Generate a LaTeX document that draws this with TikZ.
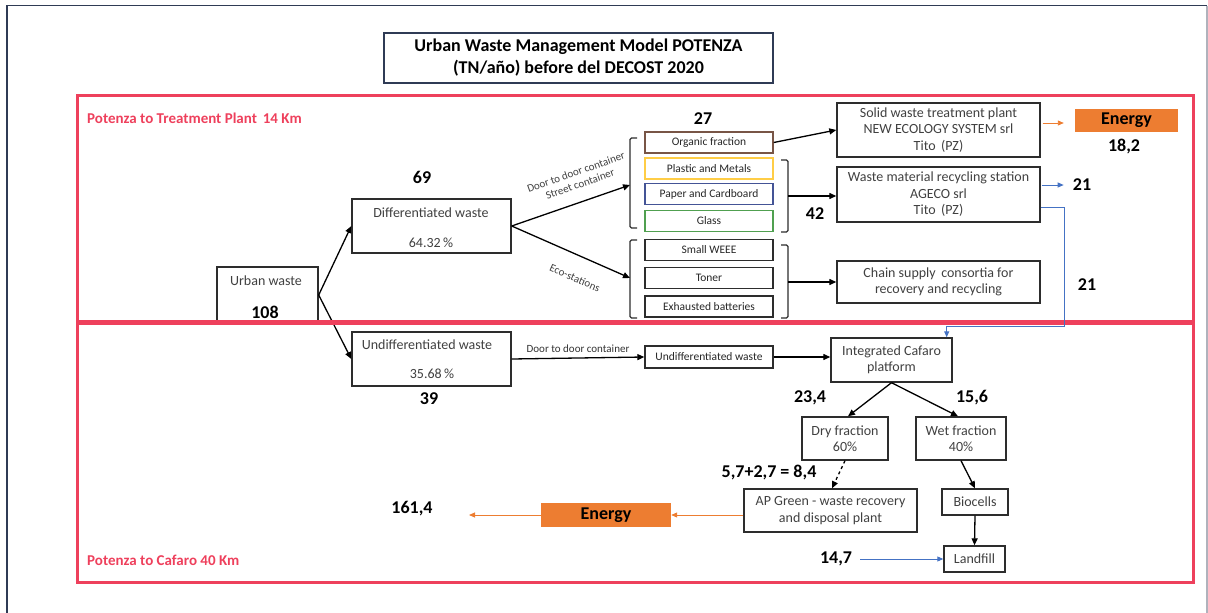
\documentclass[tikz,border=0pt]{standalone}
\usepackage{fontspec}
\setmainfont{Carlito}
\usetikzlibrary{arrows.meta,calc}
\definecolor{frameRed}{RGB}{238,64,92}
\definecolor{boxLine}{RGB}{45,45,45}
\definecolor{boxText}{RGB}{64,64,64}
\definecolor{engOrange}{RGB}{237,125,49}
\definecolor{flowBlue}{RGB}{68,114,196}
\definecolor{navyLine}{RGB}{47,59,85}
\definecolor{sideGray}{RGB}{176,178,188}
\definecolor{binBrown}{RGB}{120,85,70}
\definecolor{binYellow}{RGB}{255,205,70}
\definecolor{binBlue}{RGB}{68,84,150}
\definecolor{binGreen}{RGB}{80,160,80}
\begin{document}
\begin{tikzpicture}[x=1pt,y=-1pt,
  box/.style={draw=boxLine, line width=1.4pt, text=boxText, align=center,
    inner sep=0pt, font=\fontsize{14}{16.5}\selectfont},
  bin/.style={box, minimum width=128pt, minimum height=21pt,
    font=\fontsize{11.5}{13}\selectfont, text=black!85},
  txt/.style={text=boxText, inner sep=0pt, font=\fontsize{14}{17}\selectfont},
  num/.style={font=\bfseries\fontsize{18}{21}\selectfont, text=black, inner sep=0pt},
  zone/.style={font=\bfseries\fontsize{15}{18}\selectfont, text=frameRed, inner sep=0pt, anchor=west},
  energy/.style={fill=engOrange, inner sep=0pt, font=\bfseries\fontsize{18}{21}\selectfont, text=black},
  flow/.style={draw=black, line width=1.3pt, -{Triangle[length=7pt,width=6pt]}},
  orangeflow/.style={draw=engOrange, line width=0.9pt, -{Triangle[length=6pt,width=5pt]}},
  blueflow/.style={draw=flowBlue, line width=0.9pt, -{Triangle[length=6pt,width=5pt]}},
  bracket/.style={draw=boxLine, line width=1.3pt, rounded corners=1.5pt},
  steplbl/.style={text=boxText, inner sep=0pt, align=center, font=\fontsize{11}{12.5}\selectfont}]
\useasboundingbox (0,0) rectangle (1208,613);

% page frame
\draw[navyLine, line width=1.2pt] (7,613) -- (7,5.5) -- (1207,5.5);
\draw[sideGray, line width=1.2pt] (1207,5.5) -- (1207,613);

% title
\node[draw=navyLine, line width=1.2pt, minimum width=389pt, minimum height=50pt,
  align=center, inner sep=0pt, font=\bfseries\fontsize{18}{22}\selectfont, text=black]
  (title) at (578.5,58) {Urban Waste Management Model POTENZA\\(TN/año) before del DECOST 2020};

% zone captions
\node[zone] (zoneA) at (87,118) {Potenza to Treatment Plant\, 14 Km};
\node[zone] (zoneB) at (87,560) {Potenza to Cafaro 40 Km};

% source and first split
\node[box, minimum width=101pt, minimum height=56pt] (urban) at (267.5,295) {};
\node[txt] (urbanlbl) at (266,281) {Urban waste};
\node[num] (n108) at (265,312) {108};

\node[box, minimum width=159pt, minimum height=54pt] (diff) at (431.5,226) {};
\node[txt] (difflbl) at (431,213) {Differentiated waste};
\node[txt] (diffpct) at (431,243) {64.32\,\%};
\node[num] (n69) at (422,177) {69};

\node[box, minimum width=159pt, minimum height=54pt] (undiff) at (431.5,359) {};
\node[txt] (undifflbl) at (427,345) {Undifferentiated waste};
\node[txt] (undiffpct) at (432,374) {35.68\,\%};
\node[num] (n39) at (429,399) {39};

% collected fractions
\node[bin, draw=binBrown] (organic) at (709,142.5) {Organic fraction};
\node[bin, draw=binYellow] (plastic) at (709,168.5) {Plastic and Metals};
\node[bin, draw=binBlue] (paper) at (709,194) {Paper and Cardboard};
\node[bin, draw=binGreen] (glass) at (709,221) {Glass};
\node[bin] (weee) at (709,250) {Small WEEE};
\node[bin] (toner) at (709,278) {Toner};
\node[bin] (batteries) at (709,306.5) {Exhausted batteries};
\node[num] (n27) at (703,119) {27};
\node[num] (n42) at (815,214) {42};

% brackets grouping the fractions
\coordinate (lb1) at (630,185);
\coordinate (lb2) at (630,278);
\coordinate (rb1) at (788,196);
\coordinate (rb2) at (788,282);
\draw[bracket] (637,138) -- (630,138) -- (630,228) -- (637,228);
\draw[bracket] (637,240) -- (630,240) -- (630,318) -- (637,318);
\draw[bracket] (781,160) -- (788,160) -- (788,232) -- (781,232);
\draw[bracket] (781,245) -- (788,245) -- (788,318) -- (781,318);

% plants
\node[box, minimum width=203pt, minimum height=54pt] (solid) at (938.5,130)
  {Solid waste treatment plant\\NEW ECOLOGY SYSTEM srl\\Tito\, (PZ)};
\node[box, minimum width=203pt, minimum height=55pt] (recyc) at (938.5,194.5)
  {Waste material recycling station\\AGECO srl\\Tito\, (PZ)};
\node[box, minimum width=203pt, minimum height=42pt] (chain) at (938.5,282)
  {Chain supply\, consortia for\\recovery and recycling};
\node[energy, minimum width=103pt, minimum height=23pt] (energyA) at (1126.5,120.5) {Energy};
\node[num] (n182) at (1124,147) {18,2};
\node[num] (n21a) at (1082,185) {21};
\node[num] (n21b) at (1087,285) {21};

% lower flow
\node[bin, minimum height=22pt] (undiffbin) at (709,357) {Undifferentiated waste};
\node[box, minimum width=121pt, minimum height=44pt] (cafaro) at (891.5,360) {Integrated Cafaro\\platform};
\node[num] (n234) at (810,398) {23,4};
\node[num] (n156) at (972,398) {15,6};
\node[box, minimum width=86pt, minimum height=43pt] (dry) at (845,438.5) {Dry fraction\\60\%};
\node[box, minimum width=90pt, minimum height=43pt] (wet) at (961,438.5) {Wet fraction\\40\%};
\node[num] (n84) at (769,472) {5,7+2,7 = 8,4};
\node[box, minimum width=173pt, minimum height=43pt] (apgreen) at (830.5,510.5)
  {AP Green - waste recovery\\and disposal plant};
\node[box, minimum width=66pt, minimum height=26pt] (biocells) at (975,502) {Biocells};
\node[box, minimum width=61pt, minimum height=26pt] (landfill) at (974.5,559) {Landfill};
\node[num] (n147) at (836,559) {14,7};
\node[energy, minimum width=130pt, minimum height=24pt] (energyB) at (606,515) {Energy};
\node[num] (n161) at (412,509) {161,4};
\coordinate (eBtip) at (469,515);

% black connectors
\draw[flow] (urban.east) -- (diff.west);
\draw[flow] (urban.east) -- (undiff.west);
\draw[flow] (diff.east) -- (lb1);
\draw[flow] (diff.east) -- (lb2);
\node[steplbl, rotate=19.5] (doorlbl) at (578,178) {Door to door container\\Street container};
\node[steplbl, rotate=-24] (ecolbl) at (575,278) {Eco-stations};
\draw[flow] (organic.east) -- (solid.west);
\draw[flow] (rb1) -- (rb1 -| recyc.west);
\draw[flow] (rb2) -- (rb2 -| chain.west);
\draw[flow] (undiff.east) -- (undiffbin.west);
\node[steplbl, text=black!80] (door2lbl) at (578,349) {Door to door container};
\draw[flow] (undiffbin.east) -- (undiffbin.east -| cafaro.west);
\draw[flow] (cafaro.south) -- ([xshift=3pt]dry.north);
\draw[flow] (cafaro.south) -- ([xshift=-3pt]wet.north);
\draw[flow, dashed] (dry.south) -- ([xshift=1.5pt]apgreen.north);
\draw[flow] (wet.south) -- (biocells.north);
\draw[flow] (biocells.south) -- (landfill.north);

% energy outputs
\draw[orangeflow] ($(solid.east |- energyA.west)+(2,2.5)$) -- ($(energyA.west)+(-11,2.5)$);
\draw[orangeflow] (apgreen.west |- energyB.east) -- (energyB.east);
\draw[orangeflow] (energyB.west) -- (eBtip);

% zone frames
\draw[frameRed, line width=3pt] (77,95) rectangle (1193,582);
\draw[frameRed, line width=5pt] (77,322.5) -- (1193,322.5);

% blue flows
\draw[blueflow] ([xshift=1pt,yshift=9.5pt]recyc.east) -- ([xshift=-9pt]n21a.west);
\coordinate (bend) at (1064,326);
\draw[blueflow] ([yshift=-12.5pt]recyc.east) -| (bend) -| ([xshift=-6pt]cafaro.north east);
\draw[blueflow] ([xshift=8pt]n147.east) -- (landfill.west);
\end{tikzpicture}
\end{document}
